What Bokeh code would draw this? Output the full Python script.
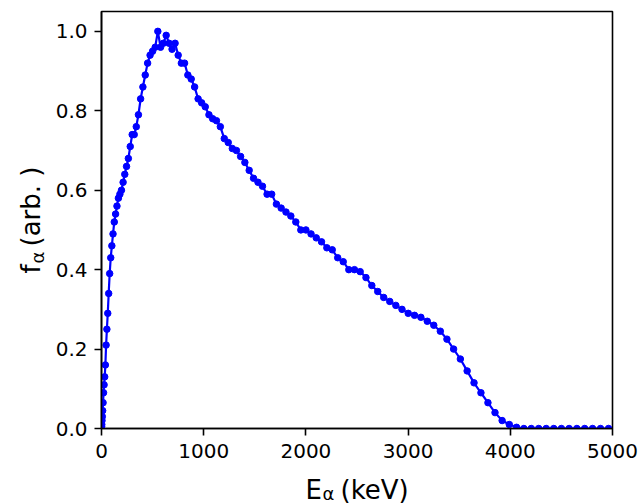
import math
from bokeh.plotting import figure
from bokeh.layouts import row, column
from bokeh.models import Range1d, FixedTicker, PrintfTickFormatter
from bokeh.core.properties import value
from bokeh.embed import file_html
from bokeh.resources import INLINE

# Alpha energy grid (keV)
energy = [0, 0.3, 1.3, 2.8, 5.0, 7.8, 11.3, 15.3, 20.0, 25.3, 31.3, 37.8, 45.0, 52.8, 61.3, 70.3,
          80.0, 90.3, 101.3, 112.8, 125.0, 137.8, 151.3, 165.3, 180.0, 195.3, 211.3, 227.8, 245.0,
          262.8, 281.3, 300.3, 320.0, 340.3, 361.3, 382.8, 405.0, 427.8, 451.3, 475.3, 500.0, 525.3,
          551.3, 577.8, 605.0, 632.8, 661.3, 690.3, 720.0, 750.3, 781.3, 812.8, 845.0, 877.8, 911.3,
          945.3, 980.0, 1015.3, 1051.3, 1087.8, 1125.0, 1162.8, 1201.3, 1240.3, 1280.0, 1320.3,
          1361.3, 1402.8, 1445.0, 1487.8, 1531.3, 1575.3, 1620.0, 1665.3, 1711.3, 1757.8, 1805.0,
          1852.8, 1901.3, 1950.3, 2000.0, 2050.3, 2101.3, 2152.8, 2205.0, 2257.8, 2311.3, 2365.3,
          2420.0, 2475.3, 2531.3, 2587.8, 2645.0, 2702.8, 2761.3, 2820.3, 2880.0, 2940.3, 3001.3,
          3062.8, 3125.0, 3187.8, 3251.3, 3315.3, 3380.0, 3445.3, 3511.3, 3577.8, 3645.0, 3712.8,
          3781.3, 3850.3, 3920.0, 3990.3, 4061.3, 4132.8, 4205.0, 4277.8, 4351.3, 4425.3, 4500.0,
          4575.3, 4651.3, 4727.8, 4805.0, 4882.8, 4961.3]

# Normalised distribution f_alpha (arb.)
f_alpha = [0.0, 0.0, 0.005, 0.01, 0.02, 0.03, 0.045, 0.065, 0.09, 0.11, 0.13, 0.16, 0.21, 0.25,
           0.29, 0.34, 0.39, 0.43, 0.46, 0.49, 0.52, 0.54, 0.56, 0.58, 0.59, 0.60, 0.62, 0.64, 0.66,
           0.68, 0.71, 0.74, 0.74, 0.76, 0.79, 0.83, 0.86, 0.89, 0.92, 0.94, 0.95, 0.96, 1.00, 0.96,
           0.97, 0.99, 0.97, 0.955, 0.97, 0.94, 0.92, 0.92, 0.89, 0.88, 0.86, 0.83, 0.82, 0.81, 0.79,
           0.78, 0.775, 0.76, 0.73, 0.72, 0.705, 0.70, 0.685, 0.67, 0.65, 0.63, 0.62, 0.61, 0.59,
           0.59, 0.565, 0.555, 0.545, 0.535, 0.52, 0.50, 0.50, 0.49, 0.48, 0.47, 0.455, 0.45, 0.43,
           0.42, 0.40, 0.40, 0.395, 0.38, 0.36, 0.345, 0.33, 0.32, 0.31, 0.30, 0.29, 0.285, 0.28,
           0.27, 0.26, 0.245, 0.225, 0.20, 0.175, 0.145, 0.115, 0.09, 0.065, 0.04, 0.02, 0.01, 0.003,
           0.0, 0.0, 0.0, 0.0, 0.0, 0.0, 0.0, 0.0, 0.0, 0.0, 0.0, 0.0]

x_ticks = [0, 1000, 2000, 3000, 4000, 5000]
y_ticks = [0.0, 0.2, 0.4, 0.6, 0.8, 1.0]

FONT = "DejaVu Sans"
BLUE = "#0000ff"

# ---- main plot ----
p = figure(width=590, height=468, output_backend="svg", toolbar_location=None, title=None,
           x_range=Range1d(0, 5000), y_range=Range1d(0, 1.05),
           min_border_left=51, min_border_right=28, min_border_top=11, min_border_bottom=40)

p.line(energy, f_alpha, line_color=BLUE, line_width=2.2)
p.scatter(energy, f_alpha, size=6.5, fill_color=BLUE, line_color=BLUE)

p.grid.visible = False
p.outline_line_color = "black"
p.outline_line_width = 1.6
p.background_fill_color = "white"
p.border_fill_color = "white"

for ax in (p.xaxis[0], p.yaxis[0]):
    ax.axis_line_color = "black"
    ax.axis_line_width = 1.6
    ax.major_tick_line_color = "black"
    ax.major_tick_line_width = 1.6
    ax.major_tick_out = 7
    ax.major_tick_in = 0
    ax.minor_tick_line_color = None
    ax.major_label_text_font = FONT
    ax.major_label_text_font_size = "20px"
    ax.major_label_text_color = "black"

p.xaxis[0].ticker = FixedTicker(ticks=x_ticks)
p.yaxis[0].ticker = FixedTicker(ticks=y_ticks)
p.yaxis[0].formatter = PrintfTickFormatter(format="%.1f")
p.xaxis[0].major_label_standoff = 8
p.yaxis[0].major_label_standoff = 7


def text_panel(w, h):
    f = figure(width=w, height=h, output_backend="svg", toolbar_location=None, title=None,
               x_range=Range1d(0, w), y_range=Range1d(0, h),
               x_axis_type=None, y_axis_type=None,
               min_border_left=0, min_border_right=0, min_border_top=0, min_border_bottom=0)
    f.grid.visible = False
    f.outline_line_color = None
    f.background_fill_color = "white"
    f.border_fill_color = "white"
    return f


def put(f, x, y, t, size, angle=0.0):
    f.text(x=[x], y=[y], text=[t], text_font=value(FONT), text_font_size=value(size),
           text_color="black", text_align="left", text_baseline="alphabetic", angle=angle)


# ---- y-axis title: f_alpha (arb. ) ----
ylab = text_panel(50, 503)
put(ylab, 30, 230, "f", "26px", math.pi / 2)
put(ylab, 37, 240, "\u03b1", "18px", math.pi / 2)
put(ylab, 30, 257, "(arb. )", "26px", math.pi / 2)

# ---- x-axis title: E_alpha (keV) ----
# (this panel's frame is aligned with the main frame: 511 px wide, 35 px high)
xlab = text_panel(590, 35)
xlab.x_range = Range1d(0, 511)
put(xlab, 204, 14, "E", "26px")
put(xlab, 221, 10, "\u03b1", "18px")
put(xlab, 239, 14, "(keV)", "26px")

layout = row(ylab, column(p, xlab, spacing=0), spacing=0)

open("out.html", "w").write(file_html(layout, INLINE))
